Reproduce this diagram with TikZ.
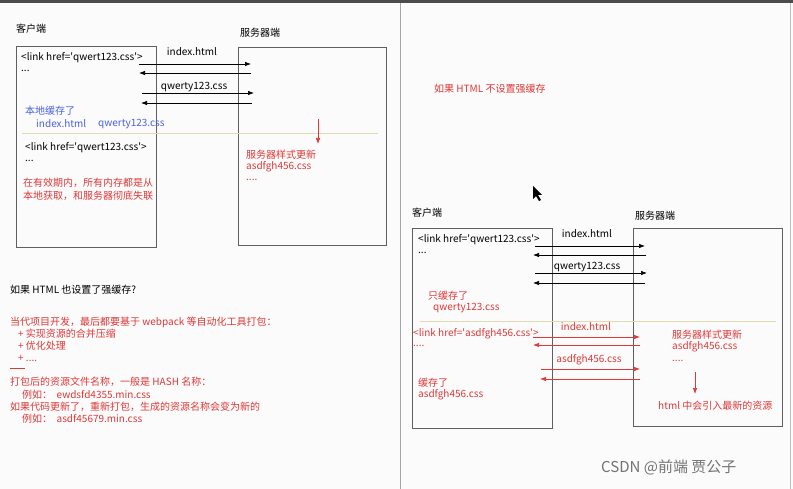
\documentclass[tikz,border=0pt]{standalone}
\usepackage{fontspec}
\setmainfont{Noto Sans CJK SC}
\usetikzlibrary{arrows.meta}
\definecolor{hred}{RGB}{222,56,56}
\definecolor{hblue}{RGB}{74,98,222}
\definecolor{hline}{RGB}{228,218,178}
\definecolor{hgray}{RGB}{95,95,95}
\newcommand{\sq}{\textquotesingle}

\begin{document}
\begin{tikzpicture}[x=1pt,y=-1pt,>={Latex[length=6pt,width=4.5pt]},
	txt/.style={anchor=west,inner sep=0pt,font=\fontsize{10}{12}\selectfont},
	ctxt/.style={txt,anchor=center},
	rtxt/.style={txt,text=hred},
	box/.style={draw=hgray,line width=0.8pt,anchor=north west,inner sep=0pt},
	msg/.style={->,line width=0.7pt},
	rmsg/.style={msg,draw=hred}]
	% background, screen frame
	\fill[white!97!gray] (0,0) rectangle (793,489);
	\useasboundingbox (0,0) rectangle (793,489);
	\fill[black!70] (0,0) rectangle (793,3);
	\draw[black!35,line width=0.8pt] (400,3) -- (400,489);
	\draw[black!25,line width=0.8pt] (790,3) -- (790,489);
	
	% --- left: strong cache on html ---
	\node[txt] (cl1lbl) at (16,29) {客户端};
	\node[txt] (sv1lbl) at (240,33) {服务器端};
	\node[box,minimum width=140,minimum height=201] (cl1) at (16,46) {};
	\node[box,minimum width=148,minimum height=198] (sv1) at (238,47) {};
	
	\node[txt] (l1a) at (21,58) {<link href=\sq qwert123.css\sq>};
	\node[txt] (l1b) at (21,71) {...};
	\coordinate (p1) at (139,64);  \coordinate (q1) at (251,64);
	\coordinate (p2) at (139,73);  \coordinate (q2) at (251,73);
	\coordinate (p3) at (142,93);  \coordinate (q3) at (254,93);
	\coordinate (p4) at (141,103); \coordinate (q4) at (252,103);
	\node[ctxt] (m1) at (192,52) {index.html};
	\node[ctxt] (m2) at (194,87) {qwerty123.css};
	\draw[msg] (p1) -- (q1);
	\draw[msg] (q2) -- (p2);
	\draw[msg] (p3) -- (q3);
	\draw[msg] (q4) -- (p4);
	
	\node[txt,text=hblue] (c1) at (25,111) {本地缓存了};
	\node[txt,text=hblue] (c2) at (36,124) {index.html};
	\node[txt,text=hblue] (c3) at (98,124) {qwerty123.css};
	\coordinate (s1l) at (22,133); \coordinate (s1r) at (378,133);
	\draw[hline,line width=0.9pt] (s1l) -- (s1r);
	
	\node[txt] (l1c) at (25,148) {<link href=\sq qwert123.css\sq>};
	\node[txt] (l1d) at (25,161) {...};
	\node[rtxt] (n1) at (23,183) {在有效期内，所有内存都是从};
	\node[rtxt] (n2) at (23,196) {本地获取，和服务器彻底失联};
	
	\coordinate (u1) at (318,119); \coordinate (u2) at (318,144);
	\draw[msg,draw=hred,line width=0.6pt] (u1) -- (u2);
	\node[rtxt] (sv1a) at (246,155) {服务器样式更新};
	\node[rtxt] (sv1b) at (246,167) {asdfgh456.css};
	\node[rtxt] (sv1c) at (246,180) {....};
	
	% --- left: notes ---
	\node[txt] (q) at (10,290) {如果 HTML 也设置了强缓存?};
	\node[rtxt] (t1) at (10,322) {当代项目开发，最后都要基于 webpack 等自动化工具打包：};
	\node[rtxt] (t2) at (18,334) {+ 实现资源的合并压缩};
	\node[rtxt] (t3) at (18,346) {+ 优化处理};
	\node[rtxt] (t4) at (18,358) {+ ....};
	\coordinate (d1) at (10,368); \coordinate (d2) at (25,368);
	\draw[hred,line width=0.7pt] (d1) -- (d2);
	\node[rtxt] (t5) at (10,382) {打包后的资源文件名称，一般是 HASH 名称：};
	\node[rtxt] (t6) at (22,395) {例如：\ \ ewdsfd4355.min.css};
	\node[rtxt] (t7) at (10,407) {如果代码更新了，重新打包，生成的资源名称会变为新的};
	\node[rtxt] (t8) at (22,419) {例如：\ \ asdf45679.min.css};
	
	% --- right: no strong cache on html ---
	\node[rtxt] (r0) at (434,89) {如果 HTML 不设置强缓存};
	\fill[black] (533,186) -- (533,199) -- (536,196) -- (539,201) -- (541,200) -- (538,195) -- (542,195) -- cycle;
	
	\node[txt] (cl2lbl) at (412,213) {客户端};
	\node[txt] (sv2lbl) at (635,216) {服务器端};
	\node[box,minimum width=140,minimum height=200] (cl2) at (412,228) {};
	\node[box,minimum width=149,minimum height=198] (sv2) at (633,228) {};
	
	\node[txt] (l2a) at (418,240) {<link href=\sq qwert123.css\sq>};
	\node[txt] (l2b) at (418,253) {...};
	\coordinate (p5) at (535,246); \coordinate (q5) at (645,246);
	\coordinate (p6) at (533,255); \coordinate (q6) at (646,255);
	\coordinate (p7) at (535,273); \coordinate (q7) at (647,273);
	\coordinate (p8) at (533,283); \coordinate (q8) at (645,283);
	\node[ctxt] (m5) at (587,234) {index.html};
	\node[ctxt] (m6) at (587,267) {qwerty123.css};
	\draw[msg] (p5) -- (q5);
	\draw[msg] (q6) -- (p6);
	\draw[msg] (p7) -- (q7);
	\draw[msg] (q8) -- (p8);
	
	\node[rtxt] (c4) at (428,296) {只缓存了};
	\node[rtxt] (c5) at (433,308) {qwerty123.css};
	\coordinate (s2l) at (420,321); \coordinate (s2r) at (776,321);
	\draw[hline,line width=0.9pt] (s2l) -- (s2r);
	
	\node[rtxt] (l2c) at (413,334) {<link href=\sq asdfgh456.css\sq>};
	\node[rtxt] (l2d) at (413,346) {....};
	\coordinate (p9) at (533,337);  \coordinate (q9) at (640,337);
	\coordinate (p10) at (533,345); \coordinate (q10) at (640,345);
	\coordinate (p11) at (541,369); \coordinate (q11) at (640,369);
	\coordinate (p12) at (540,379); \coordinate (q12) at (640,379);
	\node[ctxt,text=hred] (m9) at (586,327) {index.html};
	\node[ctxt,text=hred] (m10) at (589,360) {asdfgh456.css};
	\draw[rmsg] (p9) -- (q9);
	\draw[rmsg] (q10) -- (p10);
	\draw[rmsg] (p11) -- (q11);
	\draw[rmsg] (q12) -- (p12);
	
	\node[rtxt] (c6) at (418,383) {缓存了};
	\node[rtxt] (c7) at (418,395) {asdfgh456.css};
	\node[rtxt] (sv2a) at (672,335) {服务器样式更新};
	\node[rtxt] (sv2b) at (672,347) {asdfgh456.css};
	\node[rtxt] (sv2c) at (672,361) {....};
	\coordinate (u3) at (695,372); \coordinate (u4) at (695,394);
	\draw[msg,draw=hred,line width=0.6pt] (u3) -- (u4);
	\node[rtxt] (sv2d) at (658,406) {html 中会引入最新的资源};
	
	\node[txt,text=black!55,font=\fontsize{15}{17}\selectfont] (wm) at (601,467) {CSDN @前端 贾公子};
\end{tikzpicture}
\end{document}
